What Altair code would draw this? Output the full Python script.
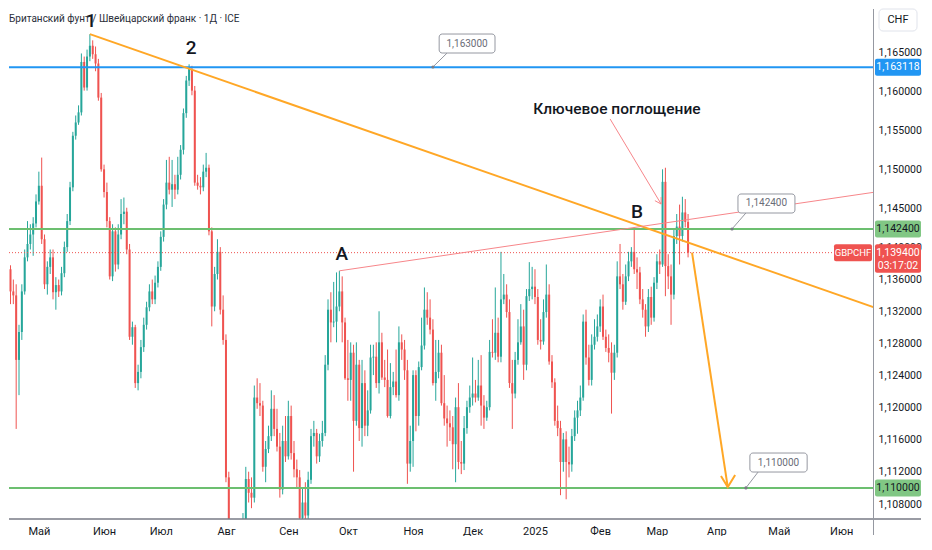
import altair as alt
import numpy as np
import pandas as pd

TITLE = "Британский фунт / Швейцарский франк · 1Д · ICE"
SYMBOL = "GBPCHF"
CURRENCY = "CHF"
TIMER = "03:17:02"
FIRST_DAY = "2024-04-12"

OPEN = [
    1.1420, 1.1382, 1.1348, 1.1373, 1.1345, 1.1340, 1.1259, 1.1294, 1.1345, 1.1388,
    1.1405, 1.1417, 1.1431, 1.1459, 1.1479, 1.1411, 1.1354, 1.1376, 1.1388, 1.1344,
    1.1353, 1.1345, 1.1368, 1.1401, 1.1434, 1.1477, 1.1543, 1.1560, 1.1573, 1.1638,
    1.1605, 1.1645, 1.1659, 1.1648, 1.1636, 1.1592, 1.1500, 1.1471, 1.1434, 1.1364,
    1.1421, 1.1379, 1.1417, 1.1443, 1.1446, 1.1398, 1.1288, 1.1300, 1.1230, 1.1244,
    1.1275, 1.1303, 1.1325, 1.1345, 1.1335, 1.1356, 1.1376, 1.1414, 1.1455, 1.1483,
    1.1474, 1.1481, 1.1474, 1.1493, 1.1525, 1.1572, 1.1614, 1.1629, 1.1601, 1.1483,
    1.1479, 1.1477, 1.1497, 1.1502, 1.1421, 1.1326, 1.1367, 1.1395, 1.1322, 1.1284,
    1.1113, 1.0995, 1.0915, 1.0950, 1.0990, 1.1030, 1.1056, 1.1111, 1.1094, 1.1088,
    1.1212, 1.1205, 1.1202, 1.1126, 1.1148, 1.1164, 1.1198, 1.1173, 1.1151, 1.1098,
    1.1158, 1.1139, 1.1189, 1.1143, 1.1123, 1.1113, 1.1063, 1.1082, 1.1066, 1.1110,
    1.1164, 1.1168, 1.1139, 1.1158, 1.1168, 1.1253, 1.1322, 1.1306, 1.1307, 1.1326,
    1.1345, 1.1306, 1.1236, 1.1234, 1.1268, 1.1183, 1.1253, 1.1174, 1.1230, 1.1177,
    1.1196, 1.1262, 1.1263, 1.1230, 1.1281, 1.1237, 1.1234, 1.1189, 1.1225, 1.1232,
    1.1215, 1.1281, 1.1272, 1.1246, 1.1130, 1.1158, 1.1240, 1.1189, 1.1250, 1.1277,
    1.1322, 1.1312, 1.1297, 1.1230, 1.1244, 1.1268, 1.1205, 1.1186, 1.1180, 1.1175,
    1.1154, 1.1200, 1.1132, 1.1130, 1.1174, 1.1200, 1.1212, 1.1217, 1.1212, 1.1227,
    1.1202, 1.1187, 1.1200, 1.1269, 1.1268, 1.1293, 1.1263, 1.1335, 1.1341, 1.1319,
    1.1230, 1.1217, 1.1259, 1.1281, 1.1301, 1.1253, 1.1339, 1.1348, 1.1351, 1.1338,
    1.1284, 1.1282, 1.1319, 1.1341, 1.1257, 1.1231, 1.1183, 1.1174, 1.1132, 1.1160,
    1.1132, 1.1129, 1.1164, 1.1187, 1.1196, 1.1212, 1.1307, 1.1262, 1.1234, 1.1278,
    1.1288, 1.1301, 1.1326, 1.1288, 1.1274, 1.1268, 1.1243, 1.1268, 1.1364, 1.1354,
    1.1332, 1.1364, 1.1383, 1.1395, 1.1373, 1.1369, 1.1335, 1.1322, 1.1301, 1.1338,
    1.1312, 1.1356, 1.1383, 1.1379, 1.1484, 1.1377, 1.1364, 1.1341, 1.1415, 1.1427,
    1.1415, 1.1445, 1.1433,
]

HIGH = [
    1.1430, 1.1395, 1.1383, 1.1378, 1.1360, 1.1354, 1.1303, 1.1354, 1.1398, 1.1434,
    1.1430, 1.1439, 1.1468, 1.1497, 1.1515, 1.1417, 1.1383, 1.1398, 1.1398, 1.1363,
    1.1360, 1.1376, 1.1408, 1.1443, 1.1484, 1.1548, 1.1569, 1.1582, 1.1649, 1.1645,
    1.1654, 1.1674, 1.1666, 1.1658, 1.1642, 1.1598, 1.1506, 1.1483, 1.1439, 1.1430,
    1.1426, 1.1430, 1.1462, 1.1464, 1.1451, 1.1405, 1.1307, 1.1303, 1.1253, 1.1284,
    1.1312, 1.1332, 1.1354, 1.1360, 1.1365, 1.1383, 1.1421, 1.1462, 1.1512, 1.1516,
    1.1512, 1.1493, 1.1516, 1.1531, 1.1578, 1.1620, 1.1635, 1.1633, 1.1607, 1.1493,
    1.1490, 1.1506, 1.1521, 1.1506, 1.1426, 1.1376, 1.1411, 1.1401, 1.1340, 1.1291,
    1.1120, 1.1005, 1.0980, 1.1010, 1.1040, 1.1069, 1.1126, 1.1120, 1.1113, 1.1227,
    1.1236, 1.1230, 1.1208, 1.1158, 1.1177, 1.1221, 1.1215, 1.1198, 1.1168, 1.1177,
    1.1189, 1.1208, 1.1202, 1.1158, 1.1135, 1.1122, 1.1101, 1.1107, 1.1120, 1.1173,
    1.1183, 1.1173, 1.1167, 1.1183, 1.1265, 1.1335, 1.1344, 1.1357, 1.1369, 1.1371,
    1.1364, 1.1312, 1.1284, 1.1281, 1.1278, 1.1281, 1.1259, 1.1259, 1.1246, 1.1221,
    1.1278, 1.1278, 1.1281, 1.1320, 1.1293, 1.1259, 1.1272, 1.1255, 1.1244, 1.1272,
    1.1301, 1.1291, 1.1284, 1.1259, 1.1177, 1.1246, 1.1246, 1.1257, 1.1312, 1.1350,
    1.1344, 1.1335, 1.1310, 1.1284, 1.1284, 1.1278, 1.1240, 1.1202, 1.1196, 1.1189,
    1.1212, 1.1230, 1.1158, 1.1189, 1.1208, 1.1227, 1.1262, 1.1234, 1.1259, 1.1265,
    1.1215, 1.1208, 1.1284, 1.1310, 1.1350, 1.1312, 1.1395, 1.1367, 1.1354, 1.1335,
    1.1259, 1.1269, 1.1310, 1.1329, 1.1322, 1.1348, 1.1382, 1.1376, 1.1373, 1.1348,
    1.1310, 1.1335, 1.1379, 1.1354, 1.1265, 1.1236, 1.1202, 1.1183, 1.1168, 1.1170,
    1.1151, 1.1173, 1.1196, 1.1208, 1.1227, 1.1316, 1.1322, 1.1278, 1.1291, 1.1310,
    1.1316, 1.1335, 1.1341, 1.1297, 1.1291, 1.1281, 1.1278, 1.1383, 1.1405, 1.1367,
    1.1379, 1.1395, 1.1401, 1.1426, 1.1388, 1.1376, 1.1348, 1.1329, 1.1348, 1.1351,
    1.1363, 1.1392, 1.1398, 1.1500, 1.1502, 1.1392, 1.1379, 1.1424, 1.1443, 1.1455,
    1.1465, 1.1462, 1.1443,
]

LOW = [
    1.1335, 1.1340, 1.1335, 1.1329, 1.1329, 1.1173, 1.1215, 1.1284, 1.1341, 1.1383,
    1.1398, 1.1390, 1.1426, 1.1455, 1.1405, 1.1348, 1.1341, 1.1367, 1.1335, 1.1322,
    1.1338, 1.1340, 1.1363, 1.1395, 1.1429, 1.1472, 1.1538, 1.1557, 1.1569, 1.1601,
    1.1601, 1.1639, 1.1642, 1.1626, 1.1588, 1.1497, 1.1464, 1.1426, 1.1360, 1.1358,
    1.1370, 1.1373, 1.1411, 1.1430, 1.1392, 1.1284, 1.1278, 1.1224, 1.1221, 1.1236,
    1.1269, 1.1297, 1.1320, 1.1329, 1.1329, 1.1350, 1.1371, 1.1408, 1.1449, 1.1468,
    1.1452, 1.1462, 1.1468, 1.1487, 1.1519, 1.1566, 1.1607, 1.1595, 1.1479, 1.1474,
    1.1468, 1.1472, 1.1490, 1.1416, 1.1301, 1.1320, 1.1360, 1.1316, 1.1278, 1.1107,
    1.0985, 1.0745, 1.0880, 1.0925, 1.0965, 1.1021, 1.1050, 1.1082, 1.1075, 1.1082,
    1.1198, 1.1189, 1.1120, 1.1107, 1.1143, 1.1158, 1.1164, 1.1145, 1.1088, 1.1092,
    1.1132, 1.1135, 1.1135, 1.1113, 1.1101, 1.1044, 1.1046, 1.1044, 1.1050, 1.1105,
    1.1151, 1.1130, 1.1132, 1.1151, 1.1164, 1.1246, 1.1281, 1.1300, 1.1281, 1.1320,
    1.1281, 1.1234, 1.1208, 1.1208, 1.1120, 1.1177, 1.1158, 1.1151, 1.1164, 1.1164,
    1.1192, 1.1240, 1.1224, 1.1217, 1.1234, 1.1225, 1.1187, 1.1186, 1.1215, 1.1212,
    1.1208, 1.1259, 1.1234, 1.1105, 1.1120, 1.1126, 1.1170, 1.1177, 1.1246, 1.1272,
    1.1303, 1.1291, 1.1227, 1.1208, 1.1236, 1.1202, 1.1177, 1.1151, 1.1158, 1.1123,
    1.1107, 1.1123, 1.1117, 1.1122, 1.1167, 1.1193, 1.1202, 1.1206, 1.1208, 1.1177,
    1.1173, 1.1183, 1.1196, 1.1262, 1.1259, 1.1256, 1.1256, 1.1329, 1.1312, 1.1224,
    1.1173, 1.1211, 1.1253, 1.1278, 1.1234, 1.1246, 1.1333, 1.1335, 1.1329, 1.1278,
    1.1272, 1.1278, 1.1312, 1.1253, 1.1224, 1.1177, 1.1164, 1.1091, 1.1120, 1.1086,
    1.1113, 1.1120, 1.1158, 1.1167, 1.1189, 1.1208, 1.1253, 1.1227, 1.1227, 1.1272,
    1.1282, 1.1294, 1.1284, 1.1269, 1.1256, 1.1192, 1.1234, 1.1262, 1.1348, 1.1322,
    1.1328, 1.1358, 1.1376, 1.1367, 1.1348, 1.1329, 1.1312, 1.1288, 1.1294, 1.1303,
    1.1307, 1.1348, 1.1367, 1.1376, 1.1339, 1.1348, 1.1303, 1.1335, 1.1405, 1.1379,
    1.1408, 1.1426, 1.1388,
]

CLOSE = [
    1.1382, 1.1348, 1.1373, 1.1345, 1.1340, 1.1259, 1.1294, 1.1345, 1.1388, 1.1405,
    1.1417, 1.1431, 1.1459, 1.1479, 1.1411, 1.1354, 1.1376, 1.1388, 1.1344, 1.1353,
    1.1345, 1.1368, 1.1401, 1.1434, 1.1477, 1.1543, 1.1560, 1.1573, 1.1638, 1.1605,
    1.1645, 1.1659, 1.1648, 1.1636, 1.1592, 1.1500, 1.1471, 1.1434, 1.1364, 1.1421,
    1.1379, 1.1417, 1.1443, 1.1446, 1.1398, 1.1288, 1.1300, 1.1230, 1.1244, 1.1275,
    1.1303, 1.1325, 1.1345, 1.1335, 1.1356, 1.1376, 1.1414, 1.1455, 1.1483, 1.1474,
    1.1481, 1.1474, 1.1493, 1.1525, 1.1572, 1.1614, 1.1629, 1.1601, 1.1483, 1.1479,
    1.1477, 1.1497, 1.1502, 1.1421, 1.1326, 1.1367, 1.1395, 1.1322, 1.1284, 1.1113,
    1.0995, 1.0915, 1.0950, 1.0990, 1.1030, 1.1056, 1.1111, 1.1094, 1.1088, 1.1212,
    1.1205, 1.1202, 1.1126, 1.1148, 1.1164, 1.1198, 1.1173, 1.1151, 1.1098, 1.1158,
    1.1139, 1.1189, 1.1143, 1.1123, 1.1113, 1.1063, 1.1082, 1.1066, 1.1110, 1.1164,
    1.1168, 1.1139, 1.1158, 1.1168, 1.1253, 1.1322, 1.1306, 1.1307, 1.1326, 1.1345,
    1.1306, 1.1236, 1.1234, 1.1268, 1.1183, 1.1253, 1.1174, 1.1230, 1.1177, 1.1196,
    1.1262, 1.1263, 1.1230, 1.1281, 1.1237, 1.1234, 1.1189, 1.1225, 1.1232, 1.1215,
    1.1281, 1.1272, 1.1246, 1.1130, 1.1158, 1.1240, 1.1189, 1.1250, 1.1277, 1.1322,
    1.1312, 1.1297, 1.1230, 1.1244, 1.1268, 1.1205, 1.1186, 1.1180, 1.1175, 1.1154,
    1.1200, 1.1132, 1.1130, 1.1174, 1.1200, 1.1212, 1.1217, 1.1212, 1.1227, 1.1202,
    1.1187, 1.1200, 1.1269, 1.1268, 1.1293, 1.1263, 1.1335, 1.1341, 1.1319, 1.1230,
    1.1217, 1.1259, 1.1281, 1.1301, 1.1253, 1.1339, 1.1348, 1.1351, 1.1338, 1.1284,
    1.1282, 1.1319, 1.1341, 1.1257, 1.1231, 1.1183, 1.1174, 1.1132, 1.1160, 1.1132,
    1.1129, 1.1164, 1.1187, 1.1196, 1.1212, 1.1307, 1.1262, 1.1234, 1.1278, 1.1288,
    1.1301, 1.1326, 1.1288, 1.1274, 1.1268, 1.1243, 1.1268, 1.1364, 1.1354, 1.1332,
    1.1364, 1.1383, 1.1395, 1.1373, 1.1369, 1.1335, 1.1322, 1.1301, 1.1338, 1.1312,
    1.1356, 1.1383, 1.1379, 1.1484, 1.1377, 1.1364, 1.1341, 1.1415, 1.1427, 1.1415,
    1.1445, 1.1433, 1.1394,
]

MONTHS = [(2024, 5), (2024, 6), (2024, 7), (2024, 8), (2024, 9), (2024, 10), (2024, 11),
          (2024, 12), (2025, 1), (2025, 2), (2025, 3), (2025, 4), (2025, 5), (2025, 6)]
MONTH_LABELS = ["Май", "Июн", "Июл", "Авг", "Сен", "Окт", "Ноя", "Дек", "2025",
                "Фев", "Мар", "Апр", "Май", "Июн"]
Y_TICKS = [1.165, 1.160, 1.155, 1.150, 1.145, 1.140, 1.136, 1.132, 1.128,
           1.124, 1.120, 1.116, 1.112, 1.108]

LEVEL_BLUE = 1.163118
LEVELS_GREEN = [1.1424, 1.1100]
LAST_PRICE = 1.1394

TREND_I = [31, 310]
TREND_P = [1.1674, 1.1322]
RESIST_I = [119, 310]
RESIST_P = [1.1371, 1.1472]
ARROW_I = [243.4, 256.0]
ARROW_P = [1.1394, 1.1101]
ARROW_HEAD_I = [253.6, 256.0, 258.6]
ARROW_HEAD_P = [1.11147, 1.11011, 1.11160]
POINTER_I = [214.5, 232.5]
POINTER_P = [1.15645, 1.14557]
POINTER_HEAD_I = [230.3, 232.5, 232.5]
POINTER_HEAD_P = [1.14600, 1.14557, 1.14646]

LABEL_TEXT = ["1", "2", "A", "B"]
LABEL_I = [31.4, 66.7, 119.9, 224.0]
LABEL_P = [1.16911, 1.16561, 1.13923, 1.14456]
NOTE_TEXT = "Ключевое поглощение"
NOTE_I = 216.9
NOTE_P = 1.15773

CALLOUT_TEXT = ["1,163000", "1,142400", "1,110000"]
CALLOUT_I0 = [154.2, 259.6, 263.8]
CALLOUT_I1 = [173.9, 279.7, 284.0]
CALLOUT_P_TOP = [1.16742, 1.14685, 1.11431]
CALLOUT_P_BOT = [1.16496, 1.14443, 1.11196]
CALLOUT_CORNER_I = [157.0, 262.4, 266.7]
CALLOUT_ANCHOR_I = [152.0, 257.5, 262.4]
CALLOUT_ANCHOR_P = [1.16315, 1.1424, 1.1100]

UP = "#26A69A"
DOWN = "#EF5350"
ORANGE = "#FFA726"
PINK = "#F7868A"
BLUE = "#2196F3"
GREEN_LINE = "#6CBF70"
GREEN_TAG = "#81C784"
RED_TAG = "#EF5350"
TEXT = "#131722"
FONT = "Roboto"

W, H = 864, 510
XS = alt.Scale(domain=[2.47, 307.23], nice=False, zero=False, padding=0)
YS = alt.Scale(type="log", domain=[1.10617, 1.17067], nice=False, padding=0)

# ---------- candle table ----------
n = min(len(OPEN), len(HIGH), len(LOW), len(CLOSE))
dates = pd.bdate_range(FIRST_DAY, periods=n)
candles = pd.DataFrame({
    "i": np.arange(n),
    "date": dates.strftime("%Y-%m-%d"),
    "open": OPEN[:n], "high": HIGH[:n], "low": LOW[:n], "close": CLOSE[:n],
})
candles["dir"] = np.where(candles["close"] >= candles["open"], "up", "down")

# month ticks = first trading day of each month, on the bar-index axis
cal = pd.bdate_range(FIRST_DAY, "2025-07-31")
pos = pd.Series(np.arange(len(cal)), index=cal)
firsts = pos.groupby([cal.year, cal.month]).min()
tick_vals = [int(firsts.loc[(y, m)]) for (y, m) in MONTHS]
label_expr = ("[" + ",".join(f"'{t}'" for t in MONTH_LABELS) + "][indexof(["
              + ",".join(str(v) for v in tick_vals) + "], datum.value)]")

X_AXIS = alt.Axis(values=tick_vals, labelExpr=label_expr, grid=False, ticks=False,
                  domain=False, labelFont=FONT, labelFontSize=11, labelColor=TEXT,
                  labelPadding=6, title=None, labelFlush=False, labelOverlap=False)
Y_AXIS = alt.Axis(orient="right", values=Y_TICKS,
                  labelExpr="replace(format(datum.value, '.6f'), '.', ',')",
                  grid=False, ticks=False, domain=False, labelFont=FONT,
                  labelFontSize=10.5, labelColor=TEXT, labelPadding=5, title=None,
                  labelFlush=False, labelOverlap=False)

color_dir = alt.Color("dir:N", scale=alt.Scale(domain=["up", "down"], range=[UP, DOWN]),
                      legend=None)


def X(f):
    return alt.X(f"{f}:Q", scale=XS, axis=X_AXIS)


def Y(f):
    return alt.Y(f"{f}:Q", scale=YS, axis=Y_AXIS)


wicks = alt.Chart(candles).mark_rule(strokeWidth=1, clip=True).encode(
    x=X("i"), y=Y("low"), y2="high:Q", color=color_dir,
)
bodies = alt.Chart(candles).mark_bar(size=2, clip=True).encode(
    x=X("i"), y=Y("open"), y2="close:Q", color=color_dir,
)

# ---------- horizontal levels ----------
blue_line = alt.Chart(pd.DataFrame({"p": [LEVEL_BLUE]})).mark_rule(
    color=BLUE, strokeWidth=2).encode(y=Y("p"))
green_lines = alt.Chart(pd.DataFrame({"p": LEVELS_GREEN})).mark_rule(
    color=GREEN_LINE, strokeWidth=2).encode(y=Y("p"))
last_line = alt.Chart(pd.DataFrame({"p": [LAST_PRICE]})).mark_rule(
    color=RED_TAG, strokeWidth=1, strokeDash=[1, 2]).encode(
    y=Y("p"), x=alt.value(0), x2=alt.value(825))


# ---------- drawn lines ----------
def seg(ii, pp, name):
    return pd.DataFrame({"i": ii, "p": pp, "seg": name, "k": range(len(ii))})


orange_df = pd.concat([seg(TREND_I, TREND_P, "trend"), seg(ARROW_I, ARROW_P, "arrow"),
                       seg(ARROW_HEAD_I, ARROW_HEAD_P, "head")])
pink_df = pd.concat([seg(RESIST_I, RESIST_P, "resist"), seg(POINTER_I, POINTER_P, "ptr"),
                     seg(POINTER_HEAD_I, POINTER_HEAD_P, "phead")])
orange_lines = alt.Chart(orange_df).mark_line(color=ORANGE, strokeWidth=2, clip=True).encode(
    x=X("i"), y=Y("p"), detail="seg:N", order="k:Q")
pink_lines = alt.Chart(pink_df).mark_line(color=PINK, strokeWidth=1, clip=True).encode(
    x=X("i"), y=Y("p"), detail="seg:N", order="k:Q")

# ---------- callout boxes ----------
callouts = pd.DataFrame({
    "txt": CALLOUT_TEXT, "i0": CALLOUT_I0, "i1": CALLOUT_I1,
    "pt": CALLOUT_P_TOP, "pb": CALLOUT_P_BOT,
})
callouts["ic"] = (callouts["i0"] + callouts["i1"]) / 2
callouts["pc"] = np.sqrt(callouts["pt"] * callouts["pb"])
tails = pd.concat([
    seg([CALLOUT_CORNER_I[k], CALLOUT_ANCHOR_I[k]], [CALLOUT_P_BOT[k], CALLOUT_ANCHOR_P[k]], f"t{k}")
    for k in range(len(CALLOUT_TEXT))
])
anchors = pd.DataFrame({"i": CALLOUT_ANCHOR_I, "p": CALLOUT_ANCHOR_P})

tail_lines = alt.Chart(tails).mark_line(color="#9598A1", strokeWidth=1).encode(
    x=X("i"), y=Y("p"), detail="seg:N", order="k:Q")
anchor_dots = alt.Chart(anchors).mark_point(filled=True, size=10, color="#787B86", opacity=1).encode(
    x=X("i"), y=Y("p"))
boxes = alt.Chart(callouts).mark_rect(fill="white", stroke="#9598A1", strokeWidth=1,
                                      cornerRadius=3).encode(
    x=X("i0"), x2="i1:Q", y=Y("pt"), y2="pb:Q")
box_text = alt.Chart(callouts).mark_text(font=FONT, fontSize=10, color="#6A6D78").encode(
    x=X("ic"), y=Y("pc"), text="txt:N")

# ---------- text labels ----------
labels = pd.DataFrame({"t": LABEL_TEXT, "i": LABEL_I, "p": LABEL_P})
label_marks = alt.Chart(labels).mark_text(font=FONT, fontSize=19, fontWeight=500,
                                          color=TEXT, baseline="middle").encode(
    x=X("i"), y=Y("p"), text="t:N")
note = alt.Chart(pd.DataFrame({"t": [NOTE_TEXT], "i": [NOTE_I], "p": [NOTE_P]})).mark_text(
    font=FONT, fontSize=15.5, fontWeight=500, color=TEXT, baseline="middle").encode(
    x=X("i"), y=Y("p"), text="t:N")
title = alt.Chart(pd.DataFrame({"t": [TITLE]})).mark_text(
    font=FONT, fontSize=10, color="#2A2E39", align="left", baseline="middle").encode(
    x=alt.value(0), y=alt.value(10), text="t:N")

# ---------- price-scale tags ----------
TAG_X0, TAG_X1 = W + 2, W + 48
tag_df = pd.DataFrame({
    "p": [LEVEL_BLUE, LEVELS_GREEN[0], LEVELS_GREEN[1]],
    "fill": [BLUE, GREEN_TAG, GREEN_TAG],
    "ink": ["white", TEXT, TEXT],
})
tag_df["txt"] = tag_df["p"].map(lambda v: f"{v:.6f}".replace(".", ","))
tag_rects = alt.Chart(tag_df).mark_rect(yOffset=-8.5, y2Offset=8.5, cornerRadius=2).encode(
    x=alt.value(TAG_X0), x2=alt.value(TAG_X1), y=Y("p"), y2="p:Q",
    color=alt.Color("fill:N", scale=None))
tag_text = alt.Chart(tag_df).mark_text(font=FONT, fontSize=10.5).encode(
    x=alt.value((TAG_X0 + TAG_X1) / 2), y=Y("p"), text="txt:N",
    color=alt.Color("ink:N", scale=None))

last_df = pd.DataFrame({"p": [LAST_PRICE], "txt": [f"{LAST_PRICE:.6f}".replace(".", ",")],
                        "timer": [TIMER], "sym": [SYMBOL]})
last_rect = alt.Chart(last_df).mark_rect(color=RED_TAG, yOffset=-8.5, y2Offset=20,
                                         cornerRadius=2).encode(
    x=alt.value(TAG_X0), x2=alt.value(TAG_X1), y=Y("p"), y2="p:Q")
last_txt = alt.Chart(last_df).mark_text(font=FONT, fontSize=10.5, color="white").encode(
    x=alt.value((TAG_X0 + TAG_X1) / 2), y=Y("p"), text="txt:N")
timer_txt = alt.Chart(last_df).mark_text(font=FONT, fontSize=10.5, color="white", dy=13).encode(
    x=alt.value((TAG_X0 + TAG_X1) / 2), y=Y("p"), text="timer:N")
sym_rect = alt.Chart(last_df).mark_rect(color=RED_TAG, yOffset=-8.5, y2Offset=8.5,
                                        cornerRadius=2).encode(
    x=alt.value(W - 39), x2=alt.value(W - 1), y=Y("p"), y2="p:Q")
sym_txt = alt.Chart(last_df).mark_text(font=FONT, fontSize=9.5, color="white").encode(
    x=alt.value(W - 20), y=Y("p"), text="sym:N")

# currency box
one = pd.DataFrame({"t": [CURRENCY]})
cur_box = alt.Chart(one).mark_rect(fill="white", stroke="#E0E3EB", strokeWidth=1,
                                   cornerRadius=4).encode(
    x=alt.value(W + 6), x2=alt.value(W + 44), y=alt.value(0), y2=alt.value(22))
cur_txt = alt.Chart(one).mark_text(font=FONT, fontSize=11, color=TEXT).encode(
    x=alt.value(W + 25), y=alt.value(11), text="t:N")

# frame lines
bottom_line = alt.Chart(one).mark_rule(color="#787B86", strokeWidth=1.5).encode(
    x=alt.value(0), x2=alt.value(W + 48), y=alt.value(H))
right_line = alt.Chart(one).mark_rule(color="#9598A1", strokeWidth=1).encode(
    x=alt.value(W + 0.5), y=alt.value(0), y2=alt.value(H + 16))

chart = alt.layer(
    wicks, bodies,
    green_lines, blue_line, last_line,
    orange_lines, pink_lines,
    tail_lines, boxes, box_text, anchor_dots,
    label_marks, note, title,
    bottom_line, right_line,
    tag_rects, tag_text, sym_rect, sym_txt, last_rect, last_txt, timer_txt,
    cur_box, cur_txt,
).properties(width=W, height=H, padding=0).configure_view(stroke=None)

chart.save("out.html", embed_options={"renderer": "svg", "actions": False})
